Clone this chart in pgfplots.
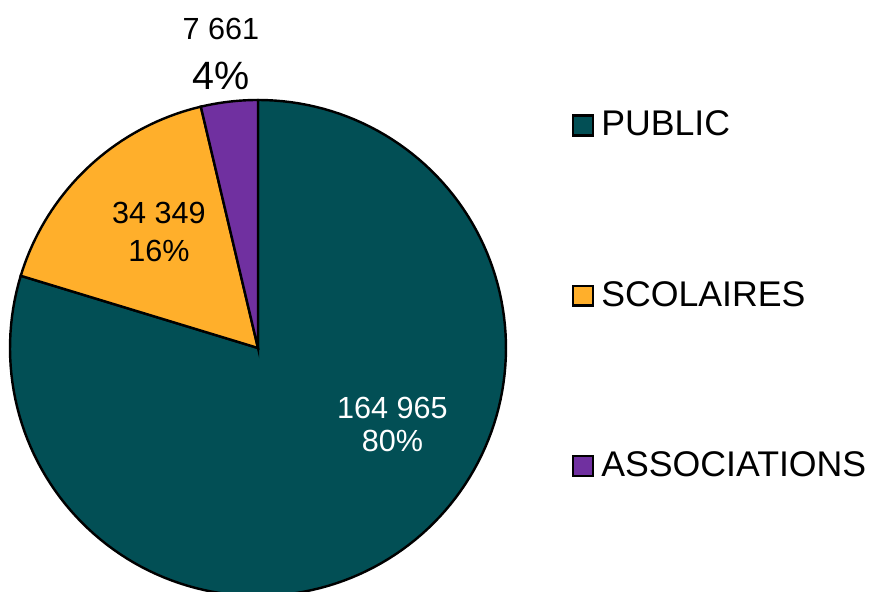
\documentclass[border=0pt]{standalone}
\usepackage{pgfplots}
\pgfplotsset{compat=1.18}
\usepackage{fontspec}
\setmainfont{Liberation Sans}
\definecolor{pubcol}{HTML}{024F55}
\definecolor{scocol}{HTML}{FFAF2B}
\definecolor{asscol}{HTML}{7030A0}
% values in thousands (PUBLIC, SCOLAIRES, ASSOCIATIONS)
\pgfmathsetmacro{\vA}{164.965}
\pgfmathsetmacro{\vB}{34.349}
\pgfmathsetmacro{\vC}{7.661}
\pgfmathsetmacro{\tot}{\vA+\vB+\vC}
\pgfmathsetmacro{\aA}{90}
\pgfmathsetmacro{\aB}{\aA-360*(\vA/\tot)}
\pgfmathsetmacro{\aC}{\aB-360*(\vB/\tot)}
\pgfmathsetmacro{\aD}{\aC-360*(\vC/\tot)}
\def\cx{258}
\def\cy{244}
\def\R{248}
\begin{document}
\begin{tikzpicture}
\useasboundingbox (0,0) rectangle (12cm,8.1655cm);
\begin{axis}[
  at={(0,0)}, anchor=south west,
  hide axis, scale only axis,
  width=12cm, height=8.1655cm,
  xmin=0, xmax=870, ymin=0, ymax=592,
  clip=true,
  legend image code/.code={\draw[#1,draw=black,line width=0.9pt] (0pt,-3.9pt) rectangle (7.8pt,3.9pt);},
  legend style={at={(axis cs:572,486)}, anchor=north west, draw=none, fill=none,
    inner sep=0pt, outer sep=0pt, font=\fontsize{14}{16}\selectfont,
    row sep=51.5pt, cells={anchor=west},
    /tikz/every odd column/.style={column sep=0.8pt}},
]
\addplot[fill=pubcol, draw=black, line width=0.95pt, domain=\aB:\aA, samples=150, variable=\t]
  ({\cx+\R*cos(\t)}, {\cy+\R*sin(\t)}) -- (axis cs:\cx,\cy) -- cycle;
\addlegendentry{PUBLIC}
\addplot[fill=scocol, draw=black, line width=0.95pt, domain=\aC:\aB, samples=40, variable=\t]
  ({\cx+\R*cos(\t)}, {\cy+\R*sin(\t)}) -- (axis cs:\cx,\cy) -- cycle;
\addlegendentry{SCOLAIRES}
\addplot[fill=asscol, draw=black, line width=0.95pt, domain=\aD:\aC, samples=15, variable=\t]
  ({\cx+\R*cos(\t)}, {\cy+\R*sin(\t)}) -- (axis cs:\cx,\cy) -- cycle;
\addlegendentry{ASSOCIATIONS}
\node[font=\fontsize{12}{14}\selectfont] at (axis cs:221,563) {7 661};
\node[font=\fontsize{15.5}{18}\selectfont] at (axis cs:221,516) {4\%};
\node[font=\fontsize{12}{14}\selectfont] at (axis cs:159,379.5) {34 349};
\node[font=\fontsize{12}{14}\selectfont] at (axis cs:159,341) {16\%};
\node[font=\fontsize{12}{14}\selectfont, text=white] at (axis cs:392.5,184.5) {164 965};
\node[font=\fontsize{12}{14}\selectfont, text=white] at (axis cs:392.5,151) {80\%};
\end{axis}
\end{tikzpicture}
\end{document}
